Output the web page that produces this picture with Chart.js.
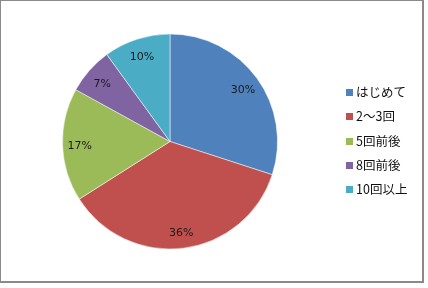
<!DOCTYPE html>
<html>
<head>
<meta charset="utf-8">
<script src="https://cdn.jsdelivr.net/npm/chart.js@4"></script>
<style>
html,body{margin:0;padding:0;background:#fff;}
#box{position:absolute;left:0;top:0;width:421px;height:280px;border:1px solid #8a8a8a;border-right-width:2px;border-bottom-width:2px;}
#wrap{position:absolute;left:0;top:0;width:424px;height:284px;}
#legend{position:absolute;left:346px;top:84px;font-family:"Noto Sans CJK JP",sans-serif;font-size:12.5px;color:#111;}
#legend div{height:24.3px;line-height:16px;white-space:nowrap;}
#legend span{display:inline-block;width:7px;height:7px;margin-right:3px;vertical-align:1px;}
</style>
</head>
<body>
<div id="box"></div>
<div id="wrap"><canvas id="chart" width="424" height="284"></canvas></div>
<div id="legend"></div>
<script>
// data
const labels=["はじめて","2～3回","5回前後","8回前後","10回以上"];
const values=[30,36,17,7,10];
const colors=["#4F81BD","#C0504D","#9BBB59","#8064A2","#4BACC6"];

// legend
const legend=document.getElementById("legend");
labels.forEach((l,i)=>{
    const div=document.createElement("div");
    const sq=document.createElement("span");
    sq.style.background=colors[i];
    div.appendChild(sq);
    div.appendChild(document.createTextNode(l));
    legend.appendChild(div);
});

// percent labels inside slices
const pctLabels={
    id:"pctLabels",
    afterDatasetsDraw(chart){
        const ctx=chart.ctx;
        const meta=chart.getDatasetMeta(0);
        const total=values.reduce((a,b)=>a+b,0);
        ctx.save();
        ctx.font="11px 'DejaVu Sans', sans-serif";
        ctx.fillStyle="#1a1a1a";
        ctx.textAlign="center";
        ctx.textBaseline="middle";
        meta.data.forEach((arc,i)=>{
            const p=arc.getProps(["x","y","startAngle","endAngle","outerRadius"],true);
            const mid=(p.startAngle+p.endAngle)/2;
            const r=p.outerRadius*0.84;
            ctx.fillText(Math.round(values[i]/total*100)+"%",p.x+Math.cos(mid)*r,p.y+Math.sin(mid)*r+2);
        });
        ctx.restore();
    }
};

new Chart(document.getElementById("chart"),{
    type:"pie",
    data:{
        labels:labels,
        datasets:[{
            data:values,
            backgroundColor:colors,
            borderColor:"rgba(255,255,255,0.5)",
            borderWidth:1
        }]
    },
    options:{
        responsive:false,
        animation:false,
        layout:{padding:{left:62,right:146,top:33.5,bottom:34.5}},
        plugins:{legend:{display:false},tooltip:{enabled:false}}
    },
    plugins:[pctLabels]
});
</script>
</body>
</html>
